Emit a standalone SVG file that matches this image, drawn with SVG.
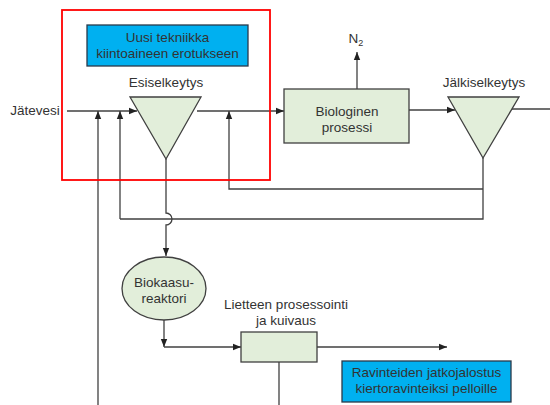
<svg xmlns="http://www.w3.org/2000/svg" width="550" height="405" viewBox="0 0 550 405">
<defs>
<style>
text{font-family:"Liberation Sans",Arial,sans-serif;font-size:13.5px;fill:#333;text-anchor:middle}
.ln{fill:none;stroke:#404040;stroke-width:1.3}
.g{fill:#E2EEDA;stroke:#404040;stroke-width:1.3}
.b{fill:#00B0F0;stroke:#2a3a4a;stroke-width:1.3}
</style>
<marker id="ar" viewBox="0 0 8 8" refX="8" refY="4" markerWidth="8" markerHeight="8" markerUnits="userSpaceOnUse" orient="auto">
<path d="M0,0.8 L8,4 L0,7.2 Z" fill="#222"/>
</marker>
</defs>
<rect width="550" height="405" fill="#fff"/>
<g id="connectors">
<path class="ln" d="M67,111 H137" marker-end="url(#ar)"/>
<path class="ln" d="M98,405 V111" marker-end="url(#ar)"/>
<path class="ln" d="M120,219 V111" marker-end="url(#ar)"/>
<path class="ln" d="M197,111 H284" marker-end="url(#ar)"/>
<path class="ln" d="M483,189 H229 V111" marker-end="url(#ar)"/>
<path class="ln" d="M483,158 V219 H120"/>
<path class="ln" d="M357,89 V52" marker-end="url(#ar)"/>
<path class="ln" d="M409,110 H455" marker-end="url(#ar)"/>
<path class="ln" d="M512,109 H550"/>
<path class="ln" d="M166,159 V213 A6,6 0 0 1 166,225 V256" marker-end="url(#ar)"/>
<path class="ln" d="M164,320 V347" marker-end="url(#ar)"/>
<path class="ln" d="M164,347 H241" marker-end="url(#ar)"/>
<path class="ln" d="M317,347 H447" marker-end="url(#ar)"/>
<path class="ln" d="M279,362 V405"/>
</g>
<g id="highlight">
<rect x="62" y="10" width="208" height="170" fill="none" stroke="#FF0000" stroke-width="1.8"/>
</g>
<g id="note1">
<rect class="b" x="87" y="25" width="161" height="41"/>
<text x="167.5" y="42">Uusi tekniikka</text>
<text x="167.5" y="58">kiintoaineen erotukseen</text>
</g>
<g id="jatevesi">
<text x="35" y="115">Jätevesi</text>
</g>
<g id="esiselkeytys">
<polygon class="g" points="130,97 201,97 166,159"/>
<text x="166" y="87">Esiselkeytys</text>
</g>
<g id="biologinen">
<rect class="g" x="284" y="89" width="125" height="54"/>
<text x="347" y="116">Biologinen</text>
<text x="347" y="132">prosessi</text>
</g>
<g id="n2">
<text x="356" y="43">N<tspan font-size="9" dy="3">2</tspan></text>
</g>
<g id="jalkiselkeytys">
<polygon class="g" points="448,97 519,97 483,158"/>
<text x="484" y="87">Jälkiselkeytys</text>
</g>
<g id="biokaasu">
<ellipse class="g" cx="164" cy="288.5" rx="42" ry="31.5"/>
<text x="164" y="287">Biokaasu-</text>
<text x="164" y="303">reaktori</text>
</g>
<g id="liete">
<rect class="g" x="241" y="332" width="76" height="30"/>
<text x="286" y="309">Lietteen prosessointi</text>
<text x="286" y="325">ja kuivaus</text>
</g>
<g id="note2">
<rect class="b" x="342" y="361" width="169" height="41"/>
<text x="426.5" y="377">Ravinteiden jatkojalostus</text>
<text x="426.5" y="393">kiertoravinteiksi pelloille</text>
</g>
</svg>
